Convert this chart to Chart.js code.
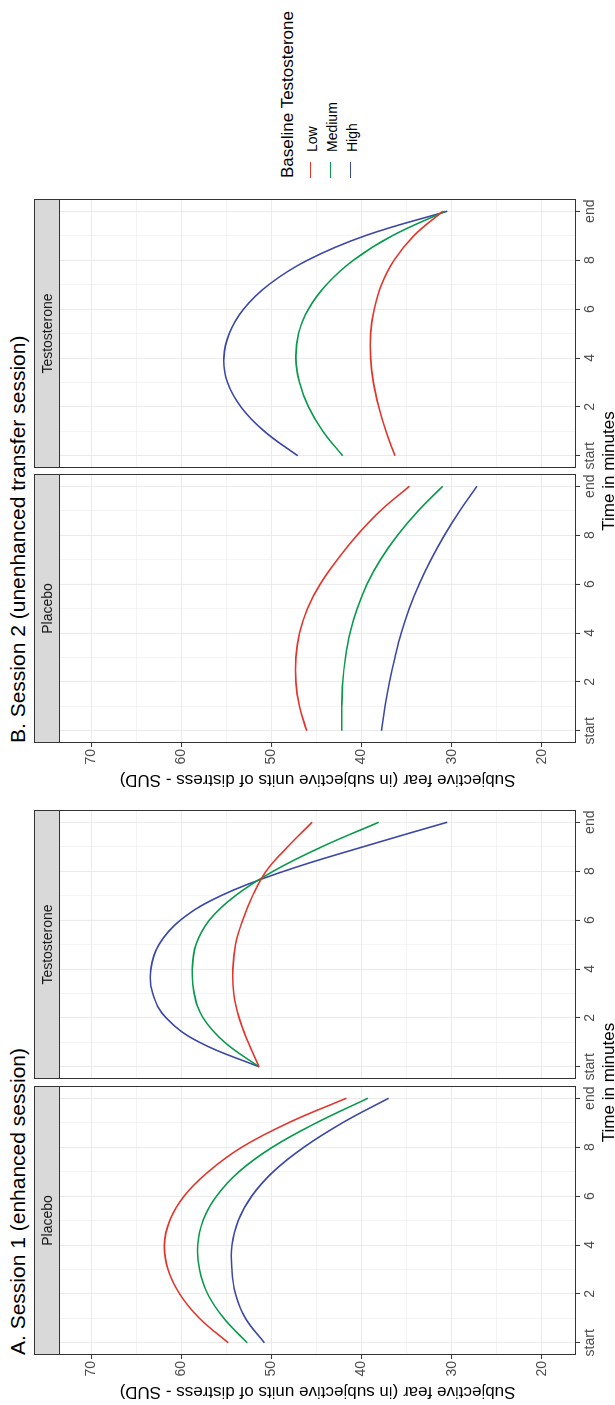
<!DOCTYPE html>
<html>
<head>
<meta charset="utf-8">
<script src="https://cdn.jsdelivr.net/npm/chart.js@4.4.0/dist/chart.umd.min.js"></script>
<style>
  html, body { margin: 0; padding: 0; background: #fff; overflow: hidden; }
  #fig {
    position: absolute; left: 0; top: 0; width: 1405px; height: 615px;
    transform-origin: 0 0; transform: translateY(1405px) rotate(-90deg);
    font-family: "Liberation Sans", Arial, sans-serif; background: #fff;
  }
  #fig canvas { position: absolute; }
  .txt { position: absolute; white-space: nowrap; line-height: 1; }
  .strip {
    position: absolute; top: 34px; height: 26px; box-sizing: border-box;
    background: #D9D9D9; border: 1px solid #333; color: #1A1A1A; font-size: 14px;
    display: flex; align-items: center; justify-content: center;
  }
  .key { position: absolute; width: 16px; height: 1.8px; }
</style>
</head>
<body>
<div id="fig"></div>
<script>
// time axis (minutes) and labels
const minutes = [0, 1, 2, 3, 4, 5, 6, 7, 8, 9, 10];
const timeTickValues = [0, 2, 4, 6, 8, 10];
const timeTickLabels = ['start', '2', '4', '6', '8', 'end'];
const fearTickValues = [20, 30, 40, 50, 60, 70];

const groups = ['Low', 'Medium', 'High'];
const groupColors = ['#E5352B', '#079A4B', '#3C48A8'];

// Session 1 (enhanced session)
const s1PlaceboLow    = [54.8, 58.0, 60.2, 61.5, 61.9, 61.3, 59.7, 57.0, 53.3, 48.1, 41.7];
const s1PlaceboMedium = [52.7, 55.3, 57.1, 58.0, 58.2, 57.6, 56.1, 53.6, 49.9, 45.0, 39.3];
const s1PlaceboHigh   = [50.8, 52.9, 54.0, 54.4, 54.4, 53.7, 52.2, 49.8, 46.4, 42.1, 37.0];
const s1TestoLow      = [51.4, 52.6, 53.6, 54.2, 54.3, 54.0, 53.2, 52.1, 50.6, 48.2, 45.5];
const s1TestoMedium   = [51.4, 55.2, 57.6, 58.6, 58.8, 58.4, 56.9, 54.0, 49.8, 44.4, 38.1];
const s1TestoHigh     = [51.4, 58.0, 61.7, 63.2, 63.4, 62.5, 60.1, 55.6, 48.6, 39.8, 30.5];

// Session 2 (unenhanced transfer session)
const s2PlaceboLow    = [46.1, 46.9, 47.3, 47.3, 46.9, 46.0, 44.6, 42.7, 40.5, 37.9, 34.7];
const s2PlaceboMedium = [42.2, 42.2, 42.1, 41.8, 41.3, 40.5, 39.4, 37.9, 36.0, 33.7, 31.0];
const s2PlaceboHigh   = [37.8, 37.4, 36.9, 36.3, 35.6, 34.7, 33.6, 32.3, 30.8, 29.1, 27.2];
const s2TestoLow      = [36.3, 37.3, 38.1, 38.7, 39.0, 39.0, 38.6, 37.8, 36.4, 34.2, 31.0];
const s2TestoMedium   = [42.1, 44.3, 45.9, 46.9, 47.3, 47.0, 45.9, 43.9, 40.9, 36.6, 30.7];
const s2TestoHigh     = [47.1, 50.8, 53.4, 54.9, 55.3, 54.7, 53.1, 50.3, 46.0, 39.6, 30.5];

const panels = [
    { strip: 'Placebo',      left: 50,  right: 319,  showY: true,  series: [s1PlaceboLow, s1PlaceboMedium, s1PlaceboHigh] },
    { strip: 'Testosterone', left: 326, right: 595,  showY: false, series: [s1TestoLow, s1TestoMedium, s1TestoHigh] },
    { strip: 'Placebo',      left: 662, right: 931,  showY: true,  series: [s2PlaceboLow, s2PlaceboMedium, s2PlaceboHigh] },
    { strip: 'Testosterone', left: 937, right: 1206, showY: false, series: [s2TestoLow, s2TestoMedium, s2TestoHigh] }
];

const FONT = '"Liberation Sans", Arial, sans-serif';
Chart.defaults.font.family = FONT;
const PAD = 20, Y_AXIS_W = 50, X_AXIS_H = 39, PLOT_TOP = 59, PLOT_BOTTOM = 576;
const fig = document.getElementById('fig');

function addText(text, css) {
    const d = document.createElement('div');
    d.className = 'txt';
    d.textContent = text;
    Object.assign(d.style, css);
    fig.appendChild(d);
    return d;
}

// ggplot-like panel border
const panelBorder = {
    id: 'panelBorder',
    afterDraw(chart) {
        const a = chart.chartArea, ctx = chart.ctx;
        ctx.save();
        ctx.strokeStyle = '#333333';
        ctx.lineWidth = 1;
        ctx.strokeRect(Math.round(a.left) + 0.5, Math.round(a.top) + 0.5,
            Math.round(a.right - a.left) - 1, Math.round(a.bottom - a.top) - 1);
        ctx.restore();
    }
};

const isMajorTime = v => timeTickValues.includes(v);
const isMajorFear = v => fearTickValues.includes(v);

panels.forEach(p => {
    const yW = p.showY ? Y_AXIS_W : 0;
    const cv = document.createElement('canvas');
    cv.width = (p.right - p.left) + 2 * PAD + yW;
    cv.height = (PLOT_BOTTOM - PLOT_TOP) + PAD + X_AXIS_H;
    cv.style.left = (p.left - PAD - yW) + 'px';
    cv.style.top = (PLOT_TOP - PAD) + 'px';
    fig.appendChild(cv);

    const strip = document.createElement('div');
    strip.className = 'strip';
    strip.textContent = p.strip;
    strip.style.left = p.left + 'px';
    strip.style.width = (p.right - p.left) + 'px';
    fig.appendChild(strip);

    new Chart(cv.getContext('2d'), {
        type: 'line',
        data: {
            datasets: groups.map((g, i) => ({
                label: g,
                data: minutes.map((m, k) => ({ x: m, y: p.series[i][k] })),
                borderColor: groupColors[i],
                borderWidth: 1.6,
                pointRadius: 0,
                tension: 0.4,
                fill: false
            }))
        },
        options: {
            responsive: false,
            animation: false,
            devicePixelRatio: 1,
            layout: { padding: { left: PAD, right: PAD, top: PAD, bottom: 0 } },
            plugins: { legend: { display: false }, tooltip: { enabled: false } },
            scales: {
                x: {
                    type: 'linear', min: -0.5, max: 10.5,
                    border: { display: false },
                    afterBuildTicks: s => { s.ticks = minutes.map(v => ({ value: v })); },
                    afterFit: s => { s.height = X_AXIS_H; },
                    grid: {
                        color: '#EBEBEB',
                        lineWidth: c => isMajorTime(c.tick.value) ? 1.1 : 0.55,
                        tickLength: 4,
                        tickColor: c => isMajorTime(c.tick.value) ? '#333333' : 'rgba(0,0,0,0)',
                        tickWidth: 1
                    },
                    ticks: {
                        autoSkip: false, maxRotation: 0, minRotation: 0, padding: 2,
                        color: '#4D4D4D', font: { size: 14 },
                        callback: v => {
                            const i = timeTickValues.indexOf(v);
                            return i >= 0 ? timeTickLabels[i] : '';
                        }
                    }
                },
                y: {
                    type: 'linear', min: 16.2, max: 73.6,
                    border: { display: false },
                    afterBuildTicks: s => {
                        const t = [];
                        for (let v = 20; v <= 70; v += 5) t.push({ value: v });
                        s.ticks = t;
                    },
                    afterFit: s => { s.width = yW; },
                    grid: {
                        color: '#EBEBEB',
                        lineWidth: c => isMajorFear(c.tick.value) ? 1.1 : 0.55,
                        drawTicks: p.showY,
                        tickLength: 4,
                        tickColor: c => isMajorFear(c.tick.value) ? '#333333' : 'rgba(0,0,0,0)',
                        tickWidth: 1
                    },
                    ticks: {
                        display: p.showY, autoSkip: false, padding: 2,
                        color: '#4D4D4D', font: { size: 14 },
                        callback: v => isMajorFear(v) ? String(v) : ''
                    },
                    title: {
                        display: p.showY,
                        text: 'Subjective fear (in subjective units of distress - SUD)',
                        color: '#000', font: { size: 17 },
                        padding: { top: 3, bottom: 0 }
                    }
                }
            }
        },
        plugins: [panelBorder]
    });
});

// titles and x-axis titles
addText('A. Session 1 (enhanced session)', { left: '50px', top: '7px', fontSize: '21px', color: '#000' });
addText('B. Session 2 (unenhanced transfer session)', { left: '662px', top: '7px', fontSize: '21px', color: '#000' });
addText('Time in minutes', { left: '50px', width: '545px', textAlign: 'center', top: '600px', fontSize: '17px', color: '#000' });
addText('Time in minutes', { left: '662px', width: '544px', textAlign: 'center', top: '600px', fontSize: '17px', color: '#000' });

// legend
addText('Baseline Testosterone', { left: '1227px', top: '279px', fontSize: '17px', color: '#000' });
groups.forEach((g, i) => {
    const k = document.createElement('div');
    k.className = 'key';
    k.style.left = '1227px';
    k.style.top = (309.6 + 20 * i) + 'px';
    k.style.background = groupColors[i];
    fig.appendChild(k);
    addText(g, { left: '1253px', top: (305 + 20 * i) + 'px', fontSize: '14px', color: '#000' });
});
</script>
</body>
</html>
